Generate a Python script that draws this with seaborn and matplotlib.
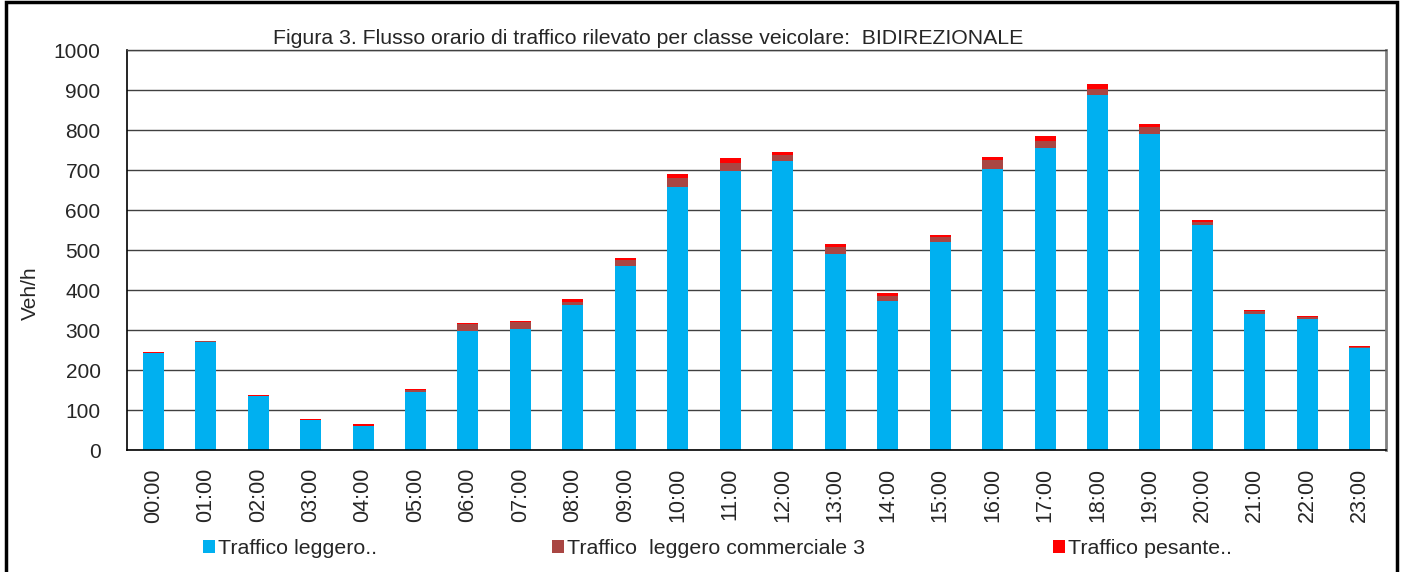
import numpy as np
import pandas as pd
import matplotlib
matplotlib.use("Agg")
import matplotlib.pyplot as plt
import seaborn as sns
from matplotlib.patches import Rectangle, Patch
from matplotlib.ticker import FixedLocator

hours = [f"{h:02d}:00" for h in range(24)]
leggero = [242, 270, 135, 75, 59, 146, 298, 302, 362, 459, 658, 697,
           722, 489, 372, 520, 702, 754, 887, 789, 562, 339, 328, 254]
commerciale = [1, 2, 1, 1, 2, 5, 18, 17, 8, 15, 23, 20,
               15, 19, 14, 13, 23, 18, 16, 18, 8, 8, 4, 3]
pesante = [1, 1, 1, 1, 4, 1, 2, 3, 7, 7, 9, 13,
           8, 7, 7, 4, 8, 13, 13, 9, 4, 3, 3, 3]
labels = ["Traffico leggero..", "Traffico  leggero commerciale 3", "Traffico pesante.."]
colors = ["#00B0F0", "#A94643", "#FF0000"]
y_ticks = list(range(0, 1001, 100))
title = "Figura 3. Flusso orario di traffico rilevato per classe veicolare:  BIDIREZIONALE"

sns.set_style("white")
plt.rcParams["font.family"] = ["Liberation Sans", "DejaVu Sans"]

df = pd.DataFrame({"ora": hours, "leggero": leggero,
                   "commerciale": commerciale, "pesante": pesante})
df["lc"] = df["leggero"] + df["commerciale"]
df["tot"] = df["lc"] + df["pesante"]

W, H = 1405, 572
fig = plt.figure(figsize=(W / 100, H / 100), dpi=100)
ax = fig.add_axes([127 / W, 1 - 450 / H, (1386 - 127) / W, 400 / H])

for col, c in zip(["tot", "lc", "leggero"], colors[::-1]):
    sns.barplot(data=df, x="ora", y=col, order=hours, color=c, saturation=1,
                width=0.4, ax=ax, edgecolor="none", linewidth=0)

ax.set_xlim(-0.5, 23.5)
ax.set_ylim(0, 1000)
ax.set_yticks(y_ticks)
ax.set_yticklabels([str(v) for v in y_ticks], fontsize=15)
ax.yaxis.grid(True, color="#404040", lw=1)
ax.set_axisbelow(True)
ax.set_xlabel("")
ax.set_ylabel("")

ax.set_xticks(range(24))
ax.set_xticklabels(hours, rotation=90, fontsize=15.5)
ax.tick_params(axis="x", which="major", length=0, pad=13)
ax.xaxis.set_minor_locator(FixedLocator(np.arange(-0.5, 24, 1)))
ax.tick_params(axis="x", which="minor", length=6, width=1, color="black", direction="out")
ax.tick_params(axis="y", which="major", length=5, width=1, color="black", direction="out", pad=14)

for s in ["left", "bottom"]:
    ax.spines[s].set_color("black")
    ax.spines[s].set_linewidth(1.2)
ax.spines["top"].set_color("#404040")
ax.spines["top"].set_linewidth(1)
ax.spines["right"].set_color("#808080")
ax.spines["right"].set_linewidth(2)

fig.text(30 / W, 1 - 293 / H, "Veh/h", rotation=90, ha="center", va="center", fontsize=15)
fig.text(648 / W, 1 - 38 / H, title, ha="center", va="center", fontsize=15.3)

for lab, c, x0 in zip(labels, colors, [203, 552, 1053]):
    fig.legend(handles=[Patch(facecolor=c, edgecolor="none", label=lab)],
               loc="center left", bbox_to_anchor=(x0 / W, 1 - 549 / H),
               frameon=False, fontsize=15.4, handlelength=0.55, handleheight=0.55,
               handletextpad=0.15, borderpad=0, borderaxespad=0)

fig.patches.append(Rectangle((6.5 / W, -0.05), (1397 - 6.5) / W, 1.05 - 2 / H,
                             transform=fig.transFigure, fill=False,
                             edgecolor="black", lw=2.5, clip_on=False))

fig.savefig("out.png", dpi=100)
